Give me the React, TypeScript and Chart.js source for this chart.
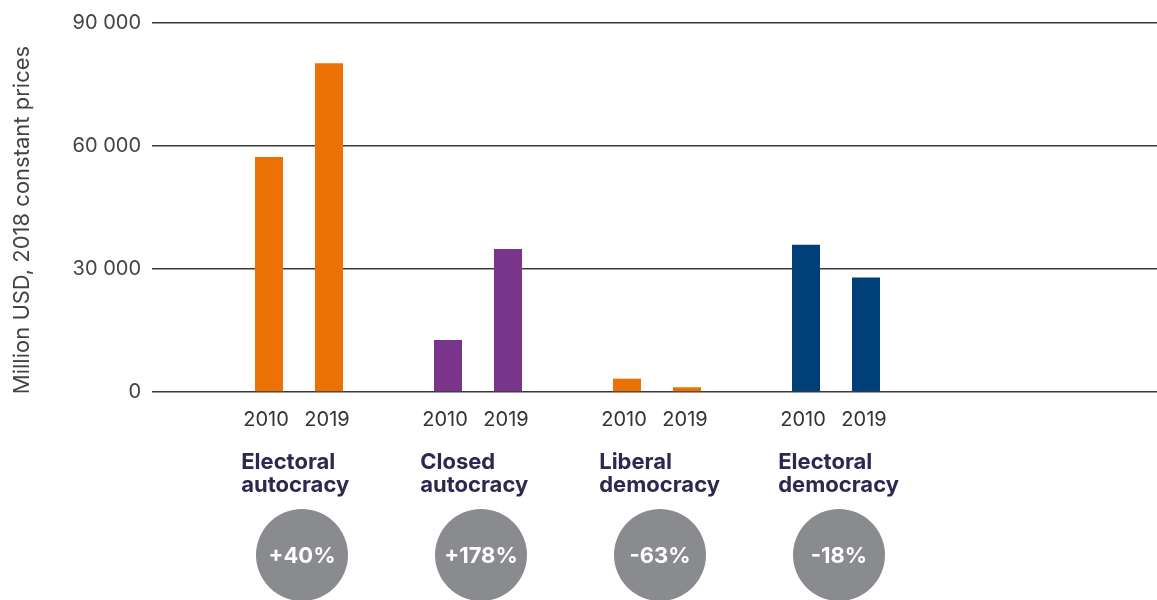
import React, { useEffect, useRef } from "react";
import { Chart, registerables } from "chart.js";

Chart.register(...registerables);

const groupNames: string[][] = [
  ["Electoral", "autocracy"],
  ["Closed", "autocracy"],
  ["Liberal", "democracy"],
  ["Electoral", "democracy"],
];
const years = ["2010", "2019"];
const values2010 = [57300, 12700, 3250, 35900];
const values2019 = [80200, 34900, 1150, 27900];
const changeLabels = ["+40%", "+178%", "-63%", "-18%"];
const groupColors = ["#ec7105", "#783589", "#ec7105", "#003f77"];
const yTicks = [0, 30000, 60000, 90000];
const yTitle = "Million USD, 2018 constant prices";

const X_MIN = -0.8212;
const X_MAX = 4.7933;
const FONT = "Inter, 'DejaVu Sans', sans-serif";

const fmt = (v: number) =>
  String(Math.round(v)).replace(/\B(?=(\d{3})+(?!\d))/g, " ");

const labelPlugin = {
  id: "labelPlugin",
  afterDraw(chart: any) {
    const ctx = chart.ctx as CanvasRenderingContext2D;
    const xs = chart.scales.x;
    ctx.save();
    // y-axis title
    ctx.save();
    ctx.translate(29, 220);
    ctx.rotate(-Math.PI / 2);
    ctx.font = `400 22px ${FONT}`;
    ctx.fillStyle = "#444444";
    ctx.textAlign = "center";
    ctx.textBaseline = "alphabetic";
    ctx.fillText(yTitle, 0, 0);
    ctx.restore();

    const m0 = chart.getDatasetMeta(0);
    const m1 = chart.getDatasetMeta(1);
    groupNames.forEach((lines, i) => {
      const b0 = m0.data[i];
      const b1 = m1.data[i];
      // year labels
      ctx.font = `400 20px ${FONT}`;
      ctx.fillStyle = "#333333";
      ctx.textAlign = "center";
      ctx.textBaseline = "alphabetic";
      ctx.fillText(years[0], b0.x - 3, 426);
      ctx.fillText(years[1], b1.x - 2, 426);
      const left = b0.x - 3 - ctx.measureText(years[0]).width / 2;
      // group names
      ctx.font = `700 22px ${FONT}`;
      ctx.fillStyle = "#2d2850";
      ctx.textAlign = "left";
      ctx.fillText(lines[0], left - 2, 469);
      ctx.fillText(lines[1], left - 2, 492);
      // circle
      const cx = xs.getPixelForValue(i) + 3;
      ctx.beginPath();
      ctx.arc(cx, 555, 46, 0, Math.PI * 2);
      ctx.fillStyle = "#8a8b8e";
      ctx.fill();
      ctx.font = `700 22px ${FONT}`;
      ctx.fillStyle = "#ffffff";
      ctx.textAlign = "center";
      ctx.textBaseline = "middle";
      ctx.fillText(changeLabels[i], cx, 556);
    });
    ctx.restore();
  },
};

export default function App() {
  const ref = useRef<HTMLCanvasElement | null>(null);
  useEffect(() => {
    if (!ref.current) return;
    const chart = new Chart(ref.current, {
      type: "bar",
      data: {
        datasets: [
          {
            label: years[0],
            data: values2010.map((v, i) => ({ x: i, y: v })),
            backgroundColor: groupColors,
          },
          {
            label: years[1],
            data: values2019.map((v, i) => ({ x: i, y: v })),
            backgroundColor: groupColors,
          },
        ],
      },
      options: {
        animation: false,
        responsive: false,
        devicePixelRatio: 1,
        categoryPercentage: 120 / 179,
        barPercentage: 28 / 60,
        layout: { padding: { left: 0, right: 0, top: 21, bottom: 208 } },
        plugins: { legend: { display: false }, tooltip: { enabled: false } },
        scales: {
          x: {
            type: "linear",
            display: false,
            offset: false,
            min: X_MIN,
            max: X_MAX,
            afterBuildTicks: (s: any) => {
              s.ticks = groupNames.map((_, i) => ({ value: i }));
            },
          },
          y: {
            min: 0,
            max: 90000,
            afterBuildTicks: (s: any) => {
              s.ticks = yTicks.map((v) => ({ value: v }));
            },
            afterFit: (s: any) => {
              s.width = 152;
            },
            border: { display: false },
            grid: { color: "#3a3a3a", lineWidth: 1.4, drawTicks: false },
            ticks: {
              padding: 11,
              color: "#444444",
              font: { family: FONT, size: 20 },
              callback: (v: any) => fmt(Number(v)),
            },
          },
        },
      } as any,
      plugins: [labelPlugin],
    });
    return () => chart.destroy();
  }, []);
  return (
    <div style={{ position: "fixed", left: 0, top: 0, width: 1157, height: 600, background: "#fff" }}>
      <canvas ref={ref} width={1157} height={600} />
    </div>
  );
}
